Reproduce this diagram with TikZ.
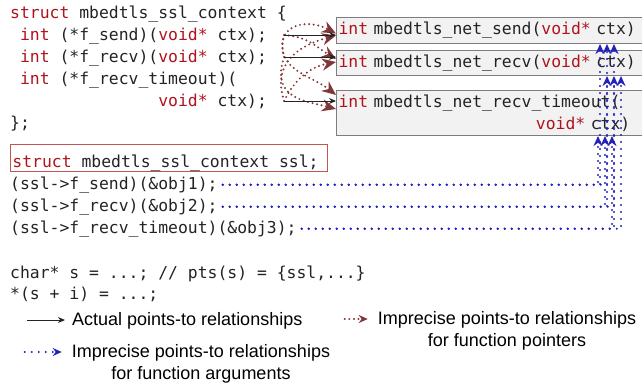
\documentclass[tikz,border=0pt]{standalone}
\usepackage{fontspec}
\setmonofont{DejaVu Sans Mono}
\setsansfont{Liberation Sans}
\usepackage{xcolor}
\usetikzlibrary{arrows.meta, positioning, calc}

\definecolor{kwred}{RGB}{175,20,30}
\definecolor{codegray}{RGB}{35,35,35}
\definecolor{fpbrown}{RGB}{128,55,55}
\definecolor{argblue}{RGB}{35,35,185}
\definecolor{sslred}{RGB}{195,85,80}
\definecolor{boxfill}{RGB}{242,242,242}
\definecolor{boxline}{RGB}{125,125,125}

\newcommand{\kw}[1]{\textcolor{kwred}{#1}}
\newcommand{\padcols}[1]{\hspace*{#1\fontcharwd\font`x}}

\tikzset{
  code/.style={anchor=base west, inner sep=0pt, text=codegray,
    font=\ttfamily\fontsize{16.4}{22}\selectfont},
  fbox/.style={code, anchor=north west, draw=boxline, fill=boxfill, line width=1pt,
    inner xsep=2pt, inner ysep=0pt, text width=320pt, align=left},
  sslbox/.style={code, draw=sslred, line width=1pt, inner xsep=2pt, inner ysep=0pt,
    text height=23pt, text depth=4pt},
  legend/.style={font=\sffamily\fontsize{18}{21}\selectfont, text=black,
    inner xsep=0pt, inner ysep=2pt, text height=14pt, text depth=4pt},
  actual/.style={draw=codegray, line width=1pt, -{Stealth[length=7pt,width=6pt]}},
  fpptr/.style={draw=fpbrown, line width=2.2pt, line cap=round,
    dash pattern=on 0pt off 4.6pt, -{Stealth[length=14pt,width=12pt,sharp]}},
  argptr/.style={draw=argblue, line width=2.3pt, line cap=round,
    dash pattern=on 0pt off 7pt, -{Stealth[length=10pt,width=9pt,sharp]}}
}

\begin{document}
\begin{tikzpicture}[x=1pt, y=-1pt]
    \clip (0,0) rectangle (642,386);

    % struct with the three function pointers
    \node[code] (s1) at (10,18) {\kw{struct} mbedtls\_ssl\_context \{};
    \node[code] (s2) at (10,40) {\padcols{1}\kw{int} (*f\_send)(\kw{void*} ctx);};
    \node[code] (s3) at (10,62) {\padcols{1}\kw{int} (*f\_recv)(\kw{void*} ctx);};
    \node[code] (s4) at (10,84) {\padcols{1}\kw{int} (*f\_recv\_timeout)(};
    \node[code] (s5) at (10,106) {\padcols{15}\kw{void*} ctx);};
    \node[code] (s6) at (10,128) {\};};

    % object and indirect calls
    \node[sslbox] (ssl) at (10,167) {\makebox[313pt][l]{\kw{struct} mbedtls\_ssl\_context ssl;}};
    \node[code] (c1) at (10,189) {(ssl->f\_send)(\&obj1);};
    \node[code] (c2) at (10,211) {(ssl->f\_recv)(\&obj2);};
    \node[code] (c3) at (10,233) {(ssl->f\_recv\_timeout)(\&obj3);};

    % pointer arithmetic
    \node[code] (p1) at (10,278) {char* s = ...; // pts(s) = \{ssl,...\}};
    \node[code] (p2) at (10,299) {*(s + i) = ...;};

    % library functions
    \node[fbox, minimum height=26pt] (send) at (336,17) {\kw{int} mbedtls\_net\_send(\kw{void*} ctx)};
    \node[fbox, minimum height=25pt] (recv) at (336,50) {\kw{int} mbedtls\_net\_recv(\kw{void*} ctx)};
    \node[fbox, minimum height=45pt] (tmo) at (336,90) {\kw{int} mbedtls\_net\_recv\_timeout(\\\padcols{20}\kw{void*} ctx)};

    % arguments: every call reaches every ctx
    \foreach \call/\k in {c1/0, c2/1, c3/2}
      \foreach \fun/\o in {send/2, recv/9, tmo/0} {
        \pgfmathsetmacro{\X}{598+7*\k+\o}
        \draw[argptr] ([xshift=5pt]\call.east) -| (\X,0 |- \fun.south);
      }

    % function pointer sources
    \coordinate (fs) at ($(s2.base east)+(17,-5)$);
    \coordinate (fr) at ($(s3.base east)+(17,-5)$);
    \coordinate (ft) at ($(s5.base east)+(17,-5)$);

    % imprecise targets of the function pointers
    \draw[fpptr] (fr) .. controls +(-10,-32) and +(-30,-16) .. ($(send.west)+(0,3)$);
    \draw[fpptr] (ft) .. controls +(-14,-42) and +(-30,8) .. ($(send.west)+(0,5)$);
    \draw[fpptr] (fs) .. controls +(25,2) and +(-20,-12) .. ($(recv.west)+(0,-4)$);
    \draw[fpptr] (ft) .. controls +(12,-25) and +(-22,4) .. ($(recv.west)+(0,-1)$);
    \draw[fpptr] (fs) .. controls +(-10,35) and +(-25,-20) .. ($(tmo.west)+(0,-18)$);
    \draw[fpptr] (fr) .. controls +(-14,42) and +(-30,-8) .. ($(tmo.west)+(0,-4)$);

    % actual targets
    \draw[actual] (fs) -- (fs -| send.west);
    \draw[actual] (fr) -- (fr -| recv.west);
    \draw[actual] (ft) -- (ft -| tmo.west);

    % legend
    \node[legend, anchor=west] (lg1) at (72,320) {Actual points-to relationships};
    \draw[actual] ([xshift=-45pt]lg1.west) -- ([xshift=-7pt]lg1.west);
    \node[legend] (lg2) at (507,319) {Imprecise points-to relationships};
    \node[legend, below=0pt of lg2] (lg2b) {for function pointers};
    \draw[fpptr, -{Stealth[length=9pt,width=8pt,sharp]}] ([xshift=-33pt]lg2.west) -- ([xshift=-10pt]lg2.west);
    \node[legend] (lg3) at (201,352) {Imprecise points-to relationships};
    \node[legend, below=0pt of lg3] (lg3b) {for function arguments};
    \draw[argptr, -{Stealth[length=9pt,width=8pt,sharp]}] ([xshift=-47pt]lg3.west) -- ([xshift=-10pt]lg3.west);
\end{tikzpicture}
\end{document}
